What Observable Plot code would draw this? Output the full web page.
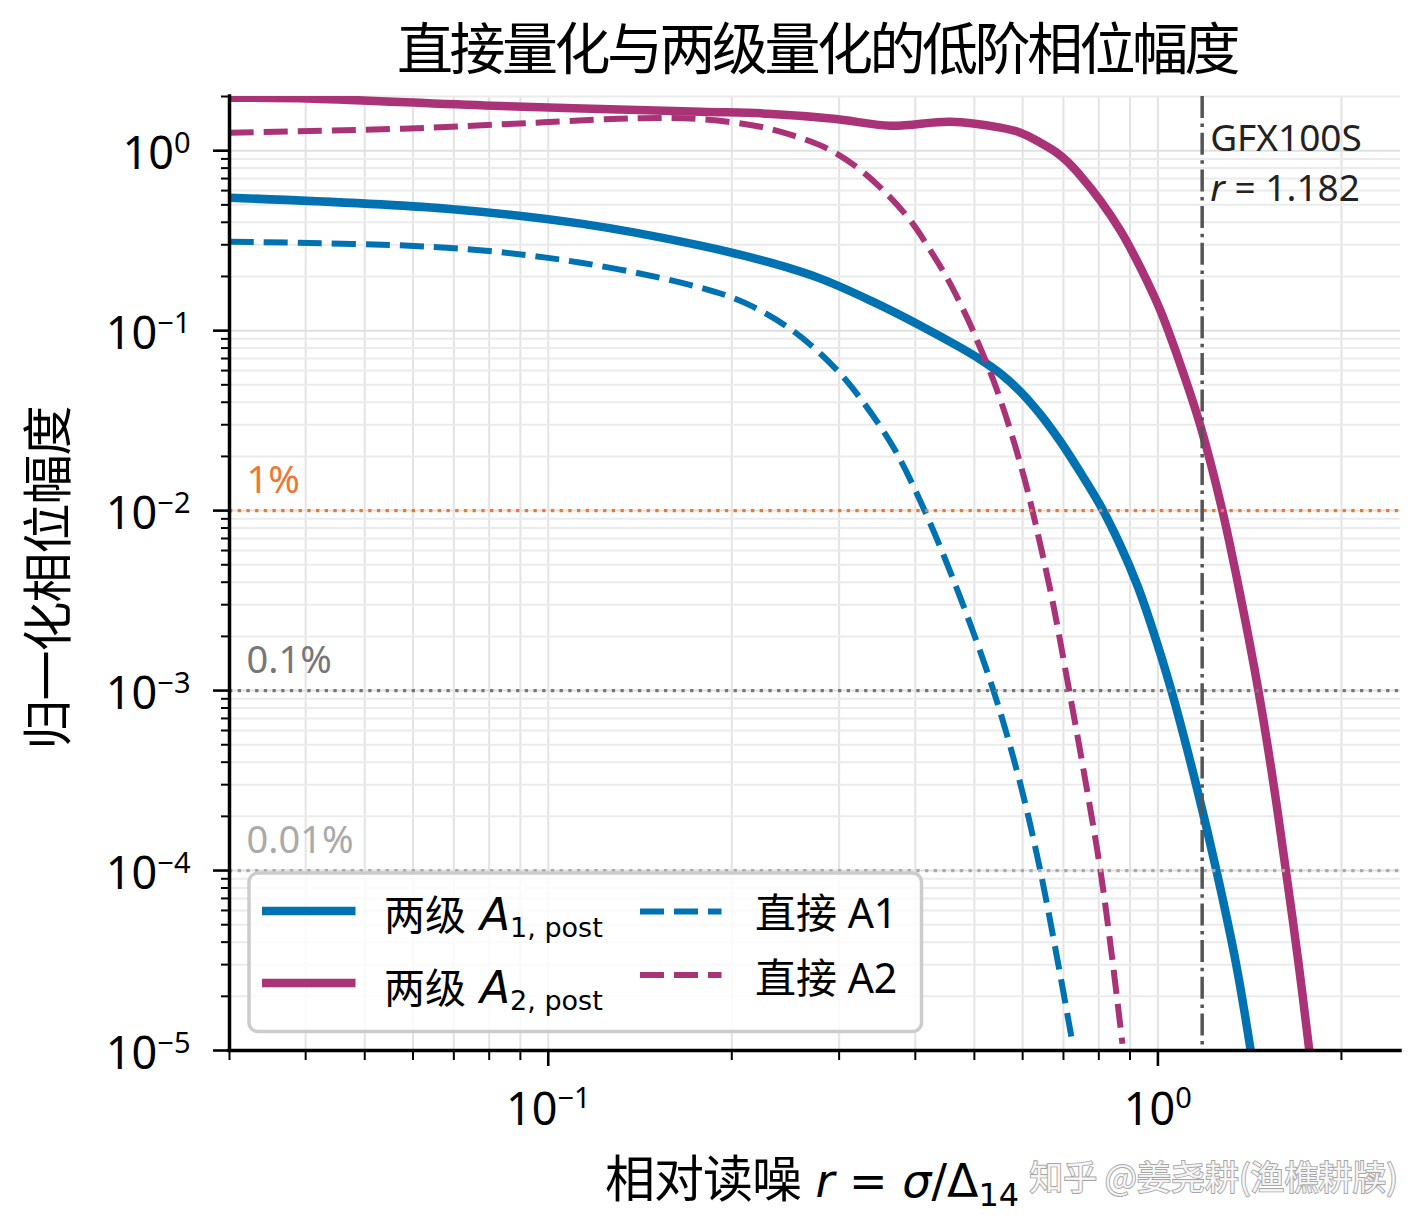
<!DOCTYPE html>
<html lang="zh">
<head>
<meta charset="utf-8">
<script src="https://cdn.jsdelivr.net/npm/d3@7"></script>
<script src="https://cdn.jsdelivr.net/npm/@observablehq/plot@0.6"></script>
<style>
html, body { margin: 0; padding: 0; background: #fff; }
#wrap { position: relative; width: 1419px; height: 1232px; overflow: hidden; background: #fff; }
#chart { position: absolute; left: 0; top: 88px; }
#overlay { position: absolute; left: 0; top: 0; pointer-events: none; }
</style>
</head>
<body>
<div id="wrap">
  <div id="chart"></div>
  <svg id="overlay" width="1419" height="1232"></svg>
</div>
<script>
// ---------- data ----------
// 两级 A1,post (solid blue)
const rTwoA1   = [0.03004, 0.0682, 0.1131, 0.1778, 0.2316, 0.2797, 0.3379, 0.4080, 0.4746, 0.5117, 0.5518, 0.5951, 0.6417, 0.6919, 0.7464, 0.8049, 0.8681, 0.9256, 0.9721, 1.0523, 1.1519, 1.2494, 1.345, 1.4232];
const ampTwoA1 = [0.548, 0.476, 0.393, 0.2966, 0.2385, 0.1945, 0.1468, 0.1066, 0.0804, 0.0690, 0.0577, 0.0458, 0.0342, 0.0242, 0.01626, 0.01066, 0.00639, 0.00383, 0.002386, 0.00100, 0.000312, 0.0000975, 0.0000297, 0.0000095];
// 两级 A2,post (solid magenta)
const rTwoA2   = [0.03004, 0.0411, 0.0808, 0.1778, 0.2290, 0.2938, 0.3643, 0.4568, 0.5518, 0.5951, 0.6417, 0.6792, 0.7105, 0.7464, 0.8049, 0.8681, 0.9361, 1.0095, 1.0886, 1.1739, 1.2757, 1.3654, 1.4616, 1.5464, 1.6181, 1.6996, 1.7715];
const ampTwoA2 = [1.970, 1.945, 1.778, 1.647, 1.605, 1.506, 1.377, 1.449, 1.342, 1.259, 1.108, 0.987, 0.869, 0.7262, 0.5275, 0.3594, 0.2239, 0.1292, 0.0648, 0.02967, 0.0100, 0.00337, 0.00100, 0.000308, 0.0001052, 0.0000312, 0.0000100];
// 直接 A1 (dashed blue)
const rDirA1   = [0.03004, 0.0682, 0.1131, 0.1778, 0.2115, 0.2518, 0.296, 0.3253, 0.3684, 0.4143, 0.4727, 0.5374, 0.5929, 0.6393, 0.6842, 0.7216];
const ampDirA1 = [0.312, 0.289, 0.2385, 0.1733, 0.1413, 0.100, 0.0615, 0.0419, 0.0224, 0.0100, 0.00337, 0.00100, 0.000316, 0.0001052, 0.000032, 0.0000118];
// 直接 A2 (dashed magenta)
const rDirA2   = [0.03004, 0.0578, 0.0957, 0.1418, 0.1778, 0.2205, 0.2527, 0.2872, 0.3217, 0.3548, 0.3928, 0.4236, 0.4535, 0.4873, 0.5021, 0.5374, 0.5731, 0.6065, 0.6226, 0.6689, 0.7134, 0.7634, 0.8049, 0.8391, 0.8746];
const ampDirA2 = [1.259, 1.325, 1.431, 1.516, 1.496, 1.368, 1.212, 1.026, 0.804, 0.5995, 0.4084, 0.2783, 0.1896, 0.1166, 0.0926, 0.0528, 0.0278, 0.0143, 0.0100, 0.00337, 0.001052, 0.000293, 0.000100, 0.000035, 0.0000109];

const thresholdValues = [1e-2, 1e-3, 1e-4];
const thresholdLabels = ["1%", "0.1%", "0.01%"];
const thresholdLabelX = 0.032;

const gfxR = 1.182;
const gfxName = "GFX100S";
const gfxValueText = "= 1.182";

const xMajorTicks = [0.1, 1];
const xMinorTicks = [0.03, 0.04, 0.05, 0.06, 0.07, 0.08, 0.09, 0.2, 0.3, 0.4, 0.5, 0.6, 0.7, 0.8, 0.9, 2];
const yMajorTicks = [1e-5, 1e-4, 1e-3, 1e-2, 1e-1, 1];
const yMinorTicks = [
  2e-5, 3e-5, 4e-5, 5e-5, 6e-5, 7e-5, 8e-5, 9e-5,
  2e-4, 3e-4, 4e-4, 5e-4, 6e-4, 7e-4, 8e-4, 9e-4,
  2e-3, 3e-3, 4e-3, 5e-3, 6e-3, 7e-3, 8e-3, 9e-3,
  2e-2, 3e-2, 4e-2, 5e-2, 6e-2, 7e-2, 8e-2, 9e-2,
  0.2, 0.3, 0.4, 0.5, 0.6, 0.7, 0.8, 0.9, 2
];

const titleText = "直接量化与两级量化的低阶相位幅度";
const yLabelText = "归一化相位幅度";
const xLabelCjk = "相对读噪";
const watermarkText = "知乎 @姜尧耕(渔樵耕牍)";

// ---------- styles ----------
const BLUE = "#0072B2", MAGENTA = "#AA3377", ORANGE = "#EE7733";
const thresholdColors = [ORANGE, "#777777", "#aaaaaa"];
const FONT_LATIN = "'Noto Sans', 'Noto Sans CJK SC', sans-serif";
const FONT_CJK = "'Noto Sans CJK SC', 'Noto Sans', sans-serif";
const FONT_MATH = "'DejaVu Sans', sans-serif";

const rows = (r, a) => r.map((v, i) => ({r: v, a: a[i]}));
const series = [
  {rows: rows(rTwoA1, ampTwoA1), color: BLUE, dashed: false},
  {rows: rows(rTwoA2, ampTwoA2), color: MAGENTA, dashed: false},
  {rows: rows(rDirA1, ampDirA1), color: BLUE, dashed: true},
  {rows: rows(rDirA2, ampDirA2), color: MAGENTA, dashed: true}
];

const fmtPow = d => "10^" + Math.round(Math.log10(d));
const GFX_FONT = 37, GFX_LINE = 50.5;

const plot = Plot.plot({
  width: 1419,
  height: 1144,
  marginLeft: 229,
  marginRight: 19,
  marginTop: 8,
  marginBottom: 182,
  x: {type: "log", domain: [0.03, 2.5]},
  y: {type: "log", domain: [1e-5, 2]},
  style: {fontFamily: FONT_LATIN, background: "transparent", color: "#000", overflow: "visible"},
  marks: [
    Plot.gridX(xMajorTicks.concat(xMinorTicks), {stroke: "#e3e3e3", strokeOpacity: 1, strokeWidth: 2}),
    Plot.gridY(yMinorTicks, {stroke: "#ebebeb", strokeOpacity: 1, strokeWidth: 2}),
    Plot.gridY(yMajorTicks, {stroke: "#e0e0e0", strokeOpacity: 1, strokeWidth: 2}),
    ...series.map(s => Plot.line(s.rows, {
      x: "r", y: "a",
      stroke: s.color,
      strokeWidth: s.dashed ? 6 : 8.5,
      strokeDasharray: s.dashed ? "24,10" : undefined,
      strokeLinecap: "butt",
      strokeLinejoin: "round",
      curve: "catmull-rom",
      clip: true
    })),
    ...thresholdValues.map((v, i) => Plot.ruleY([v], {
      stroke: thresholdColors[i], strokeWidth: 3.3, strokeDasharray: "3.3,5.4"
    })),
    ...thresholdValues.map((v, i) => Plot.text([{r: thresholdLabelX, a: v, t: thresholdLabels[i]}], {
      x: "r", y: "a", text: "t",
      fill: thresholdColors[i], fontSize: 38,
      textAnchor: "start", lineAnchor: "bottom", dy: -18
    })),
    Plot.ruleX([gfxR], {stroke: "#555555", strokeWidth: 3.5, strokeDasharray: "22,5.6,3.5,5.6"}),
    Plot.text([{r: gfxR, a: 1}], {
      x: "r", y: "a", text: () => gfxName + "\nr " + gfxValueText,
      dx: 8, dy: GFX_LINE, textAnchor: "start", lineAnchor: "bottom",
      lineHeight: GFX_LINE / GFX_FONT, fontSize: GFX_FONT, fill: "#222"
    }),
    Plot.ruleX([0.03], {stroke: "#000", strokeWidth: 3.5, strokeLinecap: "square"}),
    Plot.ruleY([1e-5], {stroke: "#000", strokeWidth: 3.5, strokeLinecap: "square"}),
    Plot.axisY(yMajorTicks, {tickSize: 16, tickPadding: 23, tickFormat: fmtPow, fontSize: 45, strokeWidth: 2.6, label: null}),
    Plot.axisY(yMinorTicks, {tickSize: 8, tickFormat: () => "", strokeWidth: 2, label: null}),
    Plot.axisX(xMajorTicks, {tickSize: 16, tickPadding: 27, tickFormat: fmtPow, fontSize: 45, strokeWidth: 2.6, label: null}),
    Plot.axisX(xMinorTicks, {tickSize: 10, tickFormat: () => "", strokeWidth: 2, label: null})
  ]
});
document.getElementById("chart").appendChild(plot);

const NS = "http://www.w3.org/2000/svg";
const svgRoot = plot.tagName.toLowerCase() === "svg" ? plot : plot.querySelector("svg");

// superscript exponents on tick labels
svgRoot.querySelectorAll("text").forEach(t => {
  const m = /^10\^(-?\d+)$/.exec(t.textContent.trim());
  if (!m) return;
  const isY = !!t.closest('[aria-label^="y-axis"]') || t.getAttribute("text-anchor") === "end" ||
              (t.parentNode && t.parentNode.getAttribute && t.parentNode.getAttribute("text-anchor") === "end");
  t.textContent = "";
  const base = document.createElementNS(NS, "tspan");
  base.textContent = "10";
  if (isY) base.setAttribute("dy", "4");
  t.appendChild(base);
  const sup = document.createElementNS(NS, "tspan");
  sup.setAttribute("dy", isY ? "-16" : "-17");
  sup.setAttribute("font-size", "29");
  sup.textContent = m[1].replace("-", "\u2212");
  t.appendChild(sup);
});

// italic "r" in the GFX100S annotation (second line)
svgRoot.querySelectorAll("text").forEach(t => {
  if (!t.textContent.startsWith(gfxName)) return;
  const spans = t.querySelectorAll("tspan");
  if (spans.length < 2) return;
  const line2 = spans[1];
  const rest = line2.textContent.replace(/^r/, "");
  line2.textContent = "";
  const it = document.createElementNS(NS, "tspan");
  it.setAttribute("font-style", "italic");
  it.textContent = "r";
  line2.appendChild(it);
  line2.appendChild(document.createTextNode(rest));
});

// ---------- overlay: title, axis labels, legend, watermark ----------
const ov = d3.select("#overlay");

ov.append("text")
  .attr("x", 817).attr("y", 69)
  .attr("text-anchor", "middle")
  .attr("font-family", FONT_CJK).attr("font-size", 56)
  .style("letter-spacing", "-3.5px")
  .attr("fill", "#000")
  .text(titleText);

ov.append("text")
  .attr("transform", "translate(66,578) rotate(-90)")
  .attr("text-anchor", "middle")
  .attr("font-family", FONT_CJK).attr("font-size", 50)
  .style("letter-spacing", "-1px")
  .attr("fill", "#000")
  .text(yLabelText);

const xl = ov.append("text")
  .attr("x", 812).attr("y", 1197)
  .attr("text-anchor", "middle")
  .attr("fill", "#000")
  .attr("font-family", FONT_MATH).attr("font-size", 46);
xl.append("tspan").attr("font-family", FONT_CJK).attr("font-size", 50).style("letter-spacing", "-1px").text(xLabelCjk);
xl.append("tspan").text(" ");
xl.append("tspan").attr("font-style", "italic").text("r");
xl.append("tspan").text(" = ");
xl.append("tspan").attr("font-style", "italic").text("σ");
xl.append("tspan").text("/Δ");
xl.append("tspan").attr("font-size", 32).attr("dy", 9).text("14");

// legend
const lg = ov.append("g").attr("transform", "translate(245,869)");
lg.append("rect")
  .attr("x", 4).attr("y", 4).attr("width", 672.5).attr("height", 158.5)
  .attr("rx", 9).attr("ry", 9)
  .attr("fill", "#fff").attr("fill-opacity", 0.8)
  .attr("stroke", "#cccccc").attr("stroke-width", 3.5);

const legendItems = [
  {x1: 17, x2: 110.5, ly: 42, tx: 139, ty: 60.5, color: BLUE, dashed: false, cjk: "两级", sub: "1, post"},
  {x1: 17, x2: 110.5, ly: 114, tx: 139, ty: 134, color: MAGENTA, dashed: false, cjk: "两级", sub: "2, post"},
  {x1: 395, x2: 476.5, ly: 42.5, tx: 510, ty: 59.3, color: BLUE, dashed: true, cjk: "直接", plain: "A1"},
  {x1: 395, x2: 476.5, ly: 106, tx: 510, ty: 123.7, color: MAGENTA, dashed: true, cjk: "直接", plain: "A2"}
];
legendItems.forEach(it => {
  lg.append("line")
    .attr("x1", it.x1).attr("x2", it.x2).attr("y1", it.ly).attr("y2", it.ly)
    .attr("stroke", it.color)
    .attr("stroke-width", it.dashed ? 6 : 8.5)
    .attr("stroke-dasharray", it.dashed ? "24,10" : null);
  const t = lg.append("text").attr("x", it.tx).attr("y", it.ty).attr("fill", "#000");
  t.append("tspan").attr("font-family", FONT_CJK).attr("font-size", 41).text(it.cjk);
  if (it.sub) {
    t.append("tspan").attr("font-family", FONT_MATH).attr("font-size", 44).text(" ");
    t.append("tspan").attr("font-family", FONT_MATH).attr("font-size", 44).attr("font-style", "italic").text("A");
    t.append("tspan").attr("font-family", FONT_MATH).attr("font-size", 27).attr("dy", 7).text(it.sub);
  } else {
    t.append("tspan").attr("font-family", FONT_LATIN).attr("font-size", 41).text(" " + it.plain);
  }
});

// watermark (kept clear of the x-axis label)
ov.append("text")
  .attr("x", 1398).attr("y", 1190)
  .attr("text-anchor", "end")
  .attr("font-family", FONT_CJK).attr("font-size", 34)
  .attr("fill", "#ffffff").attr("fill-opacity", 0.85)
  .attr("stroke", "#a6a6a6").attr("stroke-width", 1.8)
  .style("paint-order", "stroke")
  .text(watermarkText);
</script>
</body>
</html>
